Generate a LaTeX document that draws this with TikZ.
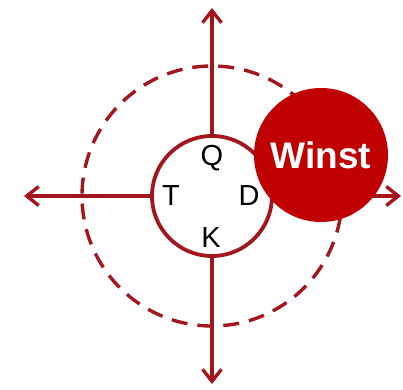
\documentclass[tikz,border=0pt]{standalone}
\usepackage{fontspec}
\setmainfont{Liberation Sans}
\usepackage{xcolor}
\usetikzlibrary{arrows.meta}
\definecolor{axisred}{RGB}{164,22,30}
\definecolor{winstred}{RGB}{192,0,0}

\begin{document}
\begin{tikzpicture}[x=1pt, y=1pt,
    axis/.style={draw=axisred, line width=3.6pt, -{Straight Barb[length=12pt, width=19pt, line width=3.4pt]}},
    letter/.style={font=\fontsize{29}{29}\selectfont, text=black, inner sep=0pt}]
  \useasboundingbox (-212, -193) rectangle (191, 196);

  % Coordinates
  \coordinate (O) at (0.00, 0.00);
  \coordinate (N) at (0.00, 188.00);
  \coordinate (S) at (0.00, -188.00);
  \coordinate (W) at (-188.00, 0.00);
  \coordinate (E) at (189.00, 0.00);

  % Drawing
  \node[circle, draw=axisred, line width=3.4pt, dash pattern=on 16pt off 10pt, minimum size=260pt] (orbit) at (O) {};
  \node[circle, draw=axisred, line width=3.8pt, fill=white, minimum size=120pt] (hub) at (O) {};
  \draw[axis] (hub.north) -- (N);
  \draw[axis] (hub.south) -- (S);
  \draw[axis] (hub.west) -- (W);
  \draw[axis] (hub.east) -- (E);
  \node[letter] (Q) at (0, 38) {Q};
  \node[letter] (T) at (-41, 0) {T};
  \node[letter] (D) at (37, 0) {D};
  \node[letter] (K) at (-1, -42) {K};
  \node[circle, fill=winstred, minimum size=134pt, inner sep=0pt, text=white,
        font=\fontsize{37}{37}\selectfont\bfseries] (winst) at (109, 41) {Winst};
\end{tikzpicture}
\end{document}
